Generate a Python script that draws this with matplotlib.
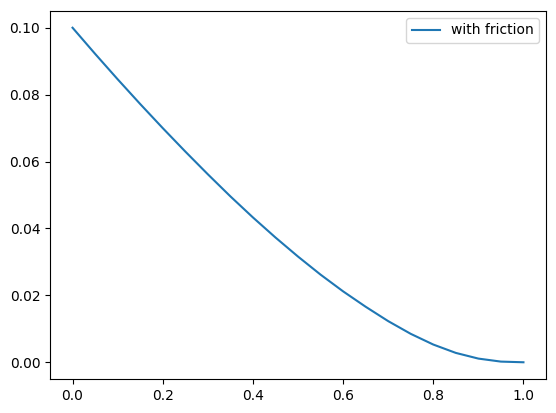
import numpy as np
import matplotlib
matplotlib.use('Agg')
import matplotlib.pyplot as plt

# valores
t = [0.00, 0.05, 0.10, 0.15, 0.20, 0.25, 0.30, 0.35, 0.40, 0.45, 0.50,
     0.55, 0.60, 0.65, 0.70, 0.75, 0.80, 0.85, 0.90, 0.95, 1.00]
x_friction = [0.1000, 0.0922, 0.0846, 0.0772, 0.0700, 0.0630, 0.0562, 0.0496,
              0.0433, 0.0373, 0.0316, 0.0262, 0.0212, 0.0166, 0.0123, 0.0085,
              0.0053, 0.0028, 0.0011, 0.0002, 0.0000]

fig = plt.figure(figsize=(5.56, 4.13), dpi=100)
ax = fig.add_axes([50 / 556, 34 / 413, 496 / 556, 368 / 413])
ax.plot(t, x_friction, label='with friction')
ax.legend()

fig.savefig('out.png', dpi=100)
